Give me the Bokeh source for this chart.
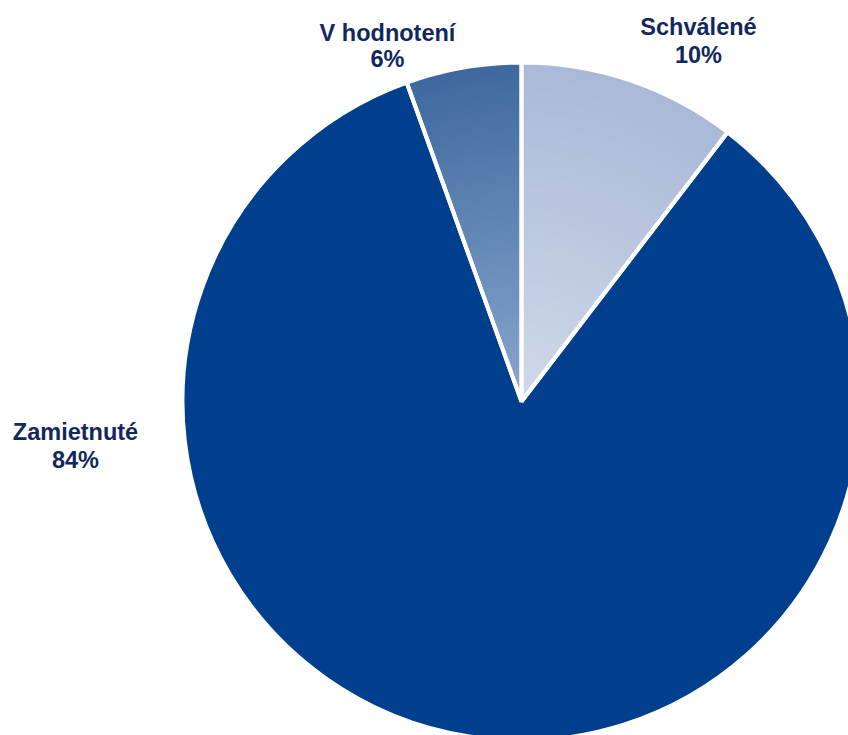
import numpy as np
from bokeh.plotting import figure
from bokeh.models import Range1d
from bokeh.embed import file_html
from bokeh.resources import INLINE
from bokeh.core.properties import value

# ---- data ----
categories = ["Schválené", "Zamietnuté", "V hodnotení"]
shares = [10.4, 84.1, 5.5]
pct_labels = ["10%", "84%", "6%"]

# ---- style ----
colors_outer = ["#aab9d7", "#003e8e", "#3f699e"]
colors_inner = ["#d0d9e8", "#003e8e", "#89a7ce"]
text_color = "#12275e"
font = "Liberation Sans"
font_size = "23.5px"

W, H = 848, 735
p = figure(width=W, height=H, x_range=Range1d(0, W), y_range=Range1d(-H, 0),
           output_backend="svg", toolbar_location=None, min_border=0)
p.axis.visible = False
p.grid.visible = False
p.outline_line_color = None
p.background_fill_color = "white"
p.border_fill_color = "white"

cx, cy, R = 521, -401, 339

total = float(sum(shares))
cum = np.concatenate([[0.0], np.cumsum(shares) / total])
starts = np.pi / 2 - 2 * np.pi * cum[:-1]
ends = np.pi / 2 - 2 * np.pi * cum[1:]


def hex2rgb(h):
    h = h.lstrip("#")
    return np.array([int(h[i:i + 2], 16) for i in (0, 2, 4)], dtype=float)


def rgb2hex(c):
    return "#%02x%02x%02x" % tuple(int(round(v)) for v in c)


N = 60
for i in range(len(categories)):
    ci, co = hex2rgb(colors_inner[i]), hex2rgb(colors_outer[i])
    if colors_inner[i] == colors_outer[i]:
        p.wedge(x=cx, y=cy, radius=R, start_angle=starts[i], end_angle=ends[i],
                direction="clock", fill_color=colors_outer[i], line_color=None)
        continue
    radii = [R * (1 - k / N) for k in range(N)]
    cols = [rgb2hex(ci + (co - ci) * (r / R)) for r in radii]
    p.wedge(x=cx, y=cy, radius=radii, start_angle=starts[i], end_angle=ends[i],
            direction="clock", fill_color=cols, line_color=None)

# white separators
p.wedge(x=cx, y=cy, radius=R, start_angle=starts, end_angle=ends, direction="clock",
        fill_alpha=0, line_color="white", line_width=4)

# labels (anchor positions in page pixels: x centre, baseline of line 1, baseline of line 2)
label_pos = [(698, 26, 54), (75, 431, 459), (387, 32, 58)]
for i in range(len(categories)):
    lx, b1, b2 = label_pos[i]
    p.text(x=[lx, lx], y=[-b1, -b2], text=[categories[i], pct_labels[i]],
           text_align="center", text_baseline="alphabetic",
           text_font=value(font), text_font_style="bold", text_font_size=font_size,
           text_color=text_color)

open("out.html", "w").write(file_html(p, INLINE))
